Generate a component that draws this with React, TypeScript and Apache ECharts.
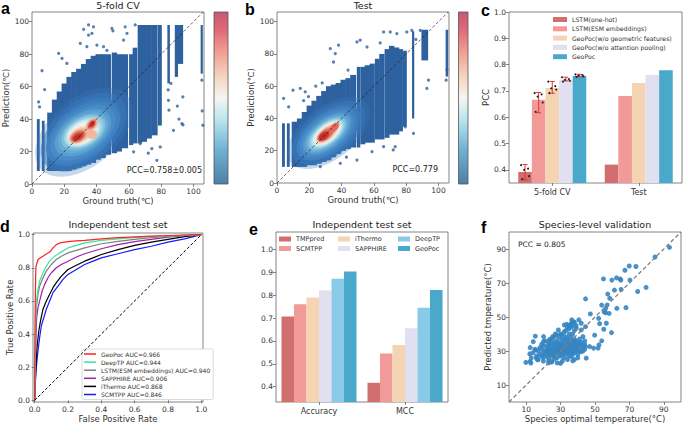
import React, { useEffect, useRef } from 'react';
import * as echarts from 'echarts';

const FONT = 'DejaVu Sans';

// ---------- Panel a (5-fold CV) ----------
// vertical bands of points: [xStart, xEnd, yLow, yHigh]
const A_COLUMNS = [
  [3.2, 4.6, 8, 40], [6.3, 7.6, 8, 39], [9.6, 12.5, 8, 44], [12.5, 15.5, 8, 52],
  [15.5, 18.5, 8, 57], [18.5, 21.5, 8, 62], [21.5, 24.5, 8, 66], [24.5, 27.5, 9, 69],
  [27.5, 30.5, 10, 71], [30.5, 33.5, 11, 74], [33.5, 36.5, 12, 77], [36.5, 39.5, 13, 79],
  [39.5, 42.5, 15, 80], [42.5, 45.5, 16, 80], [45.5, 48.8, 18, 80], [49.6, 52.5, 19, 81],
  [52.5, 55.5, 20, 80], [55.5, 59.3, 22, 80], [60.3, 62.5, 24, 80], [62.5, 65, 25, 84],
  [65.6, 68, 25, 98], [68, 71, 26, 98], [71, 74, 28, 98], [74, 77.6, 30, 98],
  [78.2, 80.2, 36, 98], [84, 85.2, 62, 98], [88.6, 90.2, 66, 98], [90.6, 93.4, 74, 98],
  [104.6, 105.6, 68, 98],
];
const A_OUTLIERS = [
  [6.2, 69.8], [7.8, 58.2], [4.7, 47.5], [4.1, 50.6], [16.5, 80.5], [18.6, 77.4], [21.6, 74.3],
  [32, 95.3], [35, 98], [38.1, 96.9], [37.1, 92.8], [35, 91.8], [29.9, 86.6], [34, 84.6],
  [40.2, 85.6], [44.3, 84.6], [49.5, 95.9], [50.1, 94.4], [57.7, 96.9], [58.8, 92.8],
  [56.7, 88.7], [46.4, 82.3], [63.9, 98], [84.5, 51.6], [84.8, 45.5], [87.6, 33.1], [93.4, 53.7],
  [92.8, 37.2], [93.5, 36.5], [105.2, 64], [105.8, 36.2], [105.4, 45], [77.3, 14.6], [79.4, 22.8],
  [74.2, 21.8], [67, 24.9], [62.9, 19.8], [72, 19], [84.3, 58], [90, 48], [91, 40], [86, 62],
];
// density contours: [cx, cy, rx, ry, angleDeg, level]
const A_DENSITY = [
  [32, 32, 27, 16, 40, 0], [31.5, 31.5, 20, 11.5, 36, 1], [31.5, 31.5, 15, 8.8, 33, 2],
  [32, 32, 11.5, 7, 30, 3], [31.5, 31.5, 9.3, 5.8, 30, 4], [31, 31, 7.6, 4.8, 30, 5],
  [29.5, 30, 6, 3.7, 30, 6], [37, 30.5, 3, 2.4, 0, 6], [37, 36.5, 4.1, 2.7, 50, 6],
  [28.5, 29.3, 4.4, 2.7, 30, 7], [37, 36.8, 2.9, 1.8, 50, 7], [28.3, 29, 2.9, 1.6, 30, 8],
  [37.2, 37, 1.6, 1.1, 50, 8],
];

// ---------- Panel b (Test) ----------
const B_COLUMNS = [
  [3.3, 4.7, 10, 37], [6.3, 7.7, 10, 37], [9.3, 12.5, 10, 38], [12.5, 15.5, 10, 40],
  [15.5, 18.5, 10, 44], [18.5, 21.5, 11, 48], [21.5, 24.5, 11, 51], [24.5, 27.5, 12, 54],
  [27.5, 30.5, 13, 57], [30.5, 33.5, 14, 60], [33.5, 36.5, 16, 61], [36.5, 39.5, 18, 62],
  [39.5, 42.5, 20, 64], [42.5, 45.5, 21, 65], [45.5, 48.8, 22, 67], [49.6, 51.4, 22, 72],
  [51.8, 54.5, 24, 72], [54.5, 57.5, 25, 73], [57.5, 60.4, 25, 74], [60.8, 63.5, 27, 77],
  [63.5, 66.4, 27, 80], [66.8, 69.5, 28, 83], [69.5, 72.5, 30, 85], [72.5, 75.5, 30, 84],
  [75.5, 77.8, 32, 83], [78.2, 80.2, 35, 82], [83.8, 84.8, 40, 94], [89.6, 93.4, 76, 95],
  [104.6, 105.8, 66, 95],
];
const B_OUTLIERS = [
  [4.1, 52.4], [7.2, 47.2], [9.9, 57.5], [14.4, 58.6], [17.5, 56.5], [19.5, 53.5], [16.5, 51],
  [33, 83.3], [36.1, 80.2], [38.1, 85.4], [35, 75], [49.5, 87.4], [51.5, 88.5], [55.7, 84.3],
  [63.9, 86.8], [66, 93.6], [70.1, 93.6], [74.2, 92.6], [80.4, 93.6], [83.5, 94.6], [88.7, 94.6],
  [91.8, 87.4], [93.8, 63.7], [92.8, 58.6], [84.5, 30.7], [79.4, 34.8], [73.2, 22.5], [72, 20.5],
  [66, 22.5], [58.8, 19.4], [49.5, 14.2], [43, 16], [39.2, 12.2], [26.8, 10.1], [104.7, 63.7],
  [105.2, 70.3], [86, 89], [44, 70], [28, 62], [24, 60],
];
const B_DENSITY = [
  [32, 31, 23, 12.5, 38, 0], [31, 30.5, 17, 9, 38, 1], [31, 30.5, 13.5, 6.8, 38, 2],
  [31, 30.5, 11, 5.4, 38, 3], [31, 30.5, 9, 4.5, 38, 4], [31.5, 31, 7.8, 3.8, 40, 5],
  [31, 30.5, 6.6, 3.2, 40, 6], [30, 29.8, 5, 2.6, 38, 7], [35.5, 34.5, 3.4, 1.8, 45, 7],
  [29, 29, 3.2, 1.8, 35, 8],
];

// ---------- Panel c ----------
const C_GROUPS = ['5-fold CV', 'Test'];
const C_MODELS = ['LSTM(one-hot)', 'LSTM(ESM embeddings)', 'GeoPoc(w/o geometric features)', 'GeoPoc(w/o attention pooling)', 'GeoPoc'];
const C_VALUES = [[0.392, 0.42], [0.666, 0.681], [0.711, 0.73], [0.742, 0.761], [0.757, 0.779]];
const C_ERR = [[0.362, 0.42], [0.617, 0.694], [0.691, 0.736], [0.738, 0.752], [0.754, 0.763]];
const C_FOLDS = [
  [0.418, 0.405, 0.40, 0.376, 0.365],
  [0.692, 0.687, 0.678, 0.656, 0.62],
  [0.735, 0.718, 0.71, 0.705, 0.692],
  [0.752, 0.745, 0.742, 0.738, 0.735],
  [0.763, 0.760, 0.758, 0.755, 0.753],
];

// ---------- Panel d ----------
const D_NAMES = ['GeoPoc AUC=0.966', 'DeepTP AUC=0.944', 'LSTM(ESM embeddings) AUC=0.940', 'SAPPHIRE AUC=0.906', 'iThermo AUC=0.868', 'SCMTPP AUC=0.846'];
const D_GEOPOC = [[0, 0], [0.002, 0.45], [0.004, 0.62], [0.006, 0.75], [0.008, 0.81], [0.015, 0.83], [0.02, 0.85], [0.035, 0.86], [0.05, 0.87], [0.065, 0.88], [0.08, 0.89], [0.095, 0.9], [0.11, 0.92], [0.13, 0.94], [0.15, 0.95], [0.2, 0.958], [0.25, 0.962], [0.3, 0.966], [0.4, 0.975], [0.5, 0.982], [0.6, 0.987], [0.7, 0.991], [0.8, 0.995], [0.9, 0.998], [1, 1]];
const D_DEEPTP = [[0, 0], [0.003, 0.3], [0.006, 0.5], [0.01, 0.6], [0.02, 0.67], [0.03, 0.72], [0.05, 0.77], [0.07, 0.81], [0.09, 0.84], [0.12, 0.87], [0.15, 0.89], [0.2, 0.92], [0.25, 0.935], [0.3, 0.95], [0.4, 0.965], [0.5, 0.975], [0.6, 0.982], [0.7, 0.988], [0.8, 0.993], [0.9, 0.997], [1, 1]];
const D_LSTM = [[0, 0], [0.003, 0.25], [0.006, 0.45], [0.01, 0.56], [0.02, 0.64], [0.03, 0.69], [0.05, 0.74], [0.07, 0.78], [0.1, 0.82], [0.13, 0.85], [0.16, 0.87], [0.2, 0.89], [0.25, 0.905], [0.3, 0.92], [0.4, 0.945], [0.5, 0.96], [0.6, 0.972], [0.7, 0.982], [0.8, 0.99], [0.9, 0.996], [1, 1]];
const D_SAPPHIRE = [[0, 0], [0.004, 0.2], [0.008, 0.38], [0.012, 0.5], [0.02, 0.56], [0.03, 0.6], [0.045, 0.66], [0.06, 0.7], [0.08, 0.74], [0.1, 0.77], [0.13, 0.8], [0.16, 0.82], [0.2, 0.84], [0.25, 0.865], [0.3, 0.885], [0.4, 0.915], [0.5, 0.94], [0.6, 0.958], [0.7, 0.972], [0.8, 0.985], [0.9, 0.994], [1, 1]];
const D_ITHERMO = [[0, 0], [0.003, 0.1], [0.008, 0.22], [0.015, 0.33], [0.025, 0.42], [0.035, 0.48], [0.05, 0.55], [0.07, 0.6], [0.09, 0.64], [0.11, 0.68], [0.13, 0.71], [0.16, 0.75], [0.2, 0.79], [0.25, 0.815], [0.3, 0.84], [0.35, 0.86], [0.4, 0.88], [0.5, 0.91], [0.6, 0.935], [0.7, 0.955], [0.8, 0.972], [0.9, 0.988], [1, 1]];
const D_SCMTPP = [[0, 0], [0.005, 0.12], [0.01, 0.2], [0.02, 0.3], [0.03, 0.38], [0.04, 0.45], [0.055, 0.5], [0.07, 0.55], [0.09, 0.6], [0.11, 0.65], [0.14, 0.69], [0.17, 0.73], [0.2, 0.76], [0.25, 0.79], [0.3, 0.82], [0.35, 0.84], [0.4, 0.86], [0.5, 0.885], [0.6, 0.91], [0.7, 0.93], [0.8, 0.955], [0.9, 0.975], [1, 1]];
const D_CURVES = [D_GEOPOC, D_DEEPTP, D_LSTM, D_SAPPHIRE, D_ITHERMO, D_SCMTPP];

// ---------- Panel e ----------
const E_GROUPS = ['Accuracy', 'MCC'];
const E_MODELS = ['TMPpred', 'SCMTPP', 'iThermo', 'SAPPHIRE', 'DeepTP', 'GeoPoc'];
const E_ACCURACY = [0.707, 0.76, 0.79, 0.82, 0.872, 0.903];
const E_MCC = [0.417, 0.545, 0.582, 0.655, 0.745, 0.822];

// ---------- Panel f ----------
const F_POINTS = [
  [93.3, 91], [84.9, 85.3], [69.9, 80], [73.8, 79.7], [67.4, 77.5], [70.3, 71.7], [62.5, 73], [59.8, 71.7],
  [64.6, 72.4], [54.9, 72.4], [65, 71.7], [79.7, 67.4], [74.8, 65], [61.3, 65.8], [65.2, 66.2], [57.4, 63.5],
  [58.6, 61], [44.5, 60.7], [53.9, 57], [57, 57], [56.2, 55.1], [55.3, 53.1], [62.7, 55.1], [68, 55.5],
  [56.2, 52.5], [47.3, 51.8], [58.2, 52.1], [52.1, 49.2], [56.6, 46.3], [52.7, 46.1], [55.1, 42.8],
  [59.6, 40.8], [53.9, 36], [49.8, 39.3], [51.8, 31.7], [46.9, 32.6], [49.2, 31.7], [44.5, 32.6], [42, 29.7],
  [44.9, 25.8], [52.3, 33.6], [9.8, 23.3], [12.3, 23.9], [12.7, 22.9], [12.3, 32], [12.1, 28.3], [15.7, 30.7],
  [16, 25.8], [14.1, 35.5], [15.3, 38.7], [20.1, 38.5], [20.1, 35.6], [16.6, 24.8], [23.1, 24.4], [24.8, 23.5],
  [29.9, 22.7], [36.1, 26.8], [37.1, 24.2], [26.4, 25.4], [30.3, 39.7], [32.2, 41.4], [32.2, 45.3], [33.6, 45.7],
  [36.5, 48.3], [37.5, 46.9], [40.6, 48.3], [42, 46.3], [39.1, 43.4], [34.8, 43], [28.7, 42.4], [27.4, 39.5],
  [25.4, 38.5], [23.5, 36.5], [42, 42.4], [44.5, 44.3], [43, 38.5], [44, 34], [40, 33.6],
  [17, 30], [18, 28], [18, 32], [19, 27], [19, 31], [19, 34], [20, 29], [20, 33], [20, 26], [21, 30], [21, 28],
  [21, 36], [22, 31], [22, 27], [22, 33], [22, 29], [23, 30], [23, 35], [23, 26], [23, 32], [24, 28], [24, 31],
  [24, 34], [24, 37], [24, 29], [25, 30], [25, 27], [25, 33], [25, 36], [25, 24], [26, 29], [26, 31], [26, 34],
  [26, 38], [26, 27], [27, 30], [27, 32], [27, 28], [27, 35], [27, 40], [28, 29], [28, 31], [28, 33], [28, 36],
  [28, 26], [29, 30], [29, 32], [29, 34], [29, 28], [29, 38], [30, 31], [30, 29], [30, 33], [30, 35], [30, 27],
  [30, 40], [31, 30], [31, 32], [31, 34], [31, 37], [31, 28], [32, 31], [32, 33], [32, 29], [32, 36], [32, 39],
  [32, 26], [33, 30], [33, 32], [33, 34], [33, 28], [33, 37], [33, 42], [34, 31], [34, 33], [34, 29], [34, 35],
  [34, 38], [35, 30], [35, 32], [35, 34], [35, 27], [35, 36], [35, 40], [36, 31], [36, 33], [36, 29], [36, 35],
  [36, 38], [36, 44], [37, 30], [37, 32], [37, 34], [37, 28], [37, 36], [37, 40], [37, 47], [38, 31], [38, 33],
  [38, 35], [38, 29], [38, 37], [38, 42], [39, 32], [39, 34], [39, 30], [39, 36], [39, 45], [40, 33], [40, 31],
  [40, 35], [40, 28], [41, 34], [41, 30], [41, 37], [42, 32], [42, 35], [43, 33], [43, 30], [44, 36], [44, 31],
  [16, 27], [15, 31], [14, 29], [13, 26], [17, 25], [20, 24], [23, 23], [28, 23], [31, 24], [34, 25], [38, 25],
  [40, 26], [36, 46], [37, 45], [38, 47], [35, 45], [34, 44],
];

// ---------- ticks ----------
const AB_TICKS = [0, 20, 40, 60, 80, 100];
const C_TICKS = [0.4, 0.5, 0.6, 0.7, 0.8, 0.9, 1.0];
const D_TICKS = [0, 0.2, 0.4, 0.6, 0.8, 1.0];
const E_TICKS = [0.4, 0.5, 0.6, 0.7, 0.8, 0.9, 1.0];
const F_TICKS = [10, 30, 50, 70, 90];

// ---------- styles ----------
const COL_DARK = '#2e619f';
// density colour ramp (rgb)
const DENSITY_RGB = [
  [58, 122, 188], [78, 148, 204], [114, 182, 218], [169, 221, 233], [228, 244, 244],
  [247, 238, 230], [242, 183, 156], [226, 104, 90], [194, 47, 42], [158, 27, 27],
];
// soft edge rings: [scale, alpha]
const SOFT_RINGS = [[1.3, 0.3], [1.15, 0.55], [1.0, 1]];
const C_COLORS = ['#d06f6d', '#f19a97', '#f5d4b4', '#e0e0f0', '#4aa8cb'];
const E_COLORS = ['#d06f6d', '#f19a97', '#f5d4b4', '#e0e0f0', '#88cae7', '#4aa8cb'];
const D_COLORS = ['#ff2020', '#3de39f', '#808080', '#a020a8', '#000000', '#1a1aff'];
const C_BAR_W = 13.6;
const E_BAR_W = 12.5;
const JITTER = [-4, 3, -1, 4, -3];
const GRIDS = [
  { left: 32, top: 12, width: 172, height: 172 },
  { left: 277, top: 12, width: 172, height: 171 },
  { left: 509, top: 12, width: 173, height: 171 },
  { left: 33, top: 233, width: 170, height: 169 },
  { left: 276, top: 232, width: 172, height: 170 },
  { left: 509, top: 232, width: 172, height: 170 },
];
const TXT = '#333';
const SPINE = '#666';

function valAxis(gi: number, min: number, max: number, ticks: number[], fmt: (v: number) => string, name: string, nameGap: number) {
  return {
    gridIndex: gi, type: 'value', min, max,
    axisLine: { show: false },
    axisTick: { show: true, length: 3, lineStyle: { color: SPINE, width: 0.8 }, customValues: ticks },
    axisLabel: { customValues: ticks, formatter: fmt, fontSize: 7.5, color: TXT, margin: 3, fontFamily: FONT },
    splitLine: { show: false },
    name, nameLocation: 'middle', nameGap,
    nameTextStyle: { fontSize: 8.5, color: TXT, fontFamily: FONT },
  };
}
function catAxis(gi: number, data: string[]) {
  return {
    gridIndex: gi, type: 'category', data,
    axisLine: { show: false },
    axisTick: { show: true, alignWithLabel: true, length: 3, lineStyle: { color: SPINE, width: 0.8 } },
    axisLabel: { fontSize: 8, color: TXT, margin: 5, fontFamily: FONT },
  };
}
const intFmt = (v: number) => String(Math.round(v));
const oneFmt = (v: number) => v.toFixed(1);

// one custom series per density panel: point bands first, then soft density contours on top
function cloudSeries(idx: number, columns: number[][], density: number[][]) {
  return {
    type: 'custom', xAxisIndex: idx, yAxisIndex: idx, clip: true, silent: true,
    data: [[0, 0]],
    renderItem: (_p: any, api: any) => {
      const children: any[] = [];
      columns.forEach((c) => {
        const p0 = api.coord([c[0], c[3]]);
        const p1 = api.coord([c[1], c[2]]);
        children.push({ type: 'rect', shape: { x: p0[0] - 0.3, y: p0[1], width: p1[0] - p0[0] + 0.6, height: p1[1] - p0[1] }, style: { fill: COL_DARK } });
      });
      density.forEach((d) => {
        const c = api.coord([d[0], d[1]]);
        const s = api.size([d[2], d[3]]);
        const [r, g, b] = DENSITY_RGB[d[5]];
        SOFT_RINGS.forEach(([k, a]) => {
          children.push({
            type: 'ellipse',
            shape: { cx: c[0], cy: c[1], rx: Math.abs(s[0]) * k, ry: Math.abs(s[1]) * k },
            originX: c[0], originY: c[1],
            rotation: (d[4] * Math.PI) / 180,
            style: { fill: `rgba(${r},${g},${b},${a})` },
          });
        });
      });
      return { type: 'group', children };
    },
  };
}
function outlierSeries(idx: number, data: number[][]) {
  return { type: 'scatter', xAxisIndex: idx, yAxisIndex: idx, data, symbolSize: 3.2, itemStyle: { color: COL_DARK }, silent: true };
}
function diagSeries(idx: number, data: number[][], color: string, width: number, dash: number[]) {
  return {
    type: 'line', xAxisIndex: idx, yAxisIndex: idx, data, showSymbol: false, silent: true, z: 10,
    lineStyle: { color, width, type: dash },
  };
}

function buildOption() {
  const series: any[] = [];
  // a
  series.push(outlierSeries(0, A_OUTLIERS), cloudSeries(0, A_COLUMNS, A_DENSITY),
    diagSeries(0, [[0, 0], [106, 106]], '#222', 0.7, [3, 2]));
  // b
  series.push(outlierSeries(1, B_OUTLIERS), cloudSeries(1, B_COLUMNS, B_DENSITY),
    diagSeries(1, [[0, 0], [106, 106]], '#222', 0.7, [3, 2]));
  // c
  C_MODELS.forEach((m, i) => {
    series.push({
      type: 'bar', name: m, xAxisIndex: 2, yAxisIndex: 2, data: C_VALUES[i], barWidth: C_BAR_W, barGap: '0%',
      itemStyle: { color: C_COLORS[i] }, silent: true,
    });
  });
  series.push({
    type: 'custom', xAxisIndex: 2, yAxisIndex: 2, z: 6, silent: true,
    data: C_ERR.map((e, m) => [0, e[0], e[1], m]),
    renderItem: (_p: any, api: any) => {
      const pl = api.coord([api.value(0), api.value(1)]);
      const ph = api.coord([api.value(0), api.value(2)]);
      const x = pl[0] + (api.value(3) - 2) * C_BAR_W;
      const st = { stroke: '#e8302c', lineWidth: 1 };
      return {
        type: 'group', children: [
          { type: 'line', shape: { x1: x, y1: pl[1], x2: x, y2: ph[1] }, style: st },
          { type: 'line', shape: { x1: x - 2.5, y1: pl[1], x2: x + 2.5, y2: pl[1] }, style: st },
          { type: 'line', shape: { x1: x - 2.5, y1: ph[1], x2: x + 2.5, y2: ph[1] }, style: st },
        ],
      };
    },
  });
  series.push({
    type: 'custom', xAxisIndex: 2, yAxisIndex: 2, z: 7, silent: true,
    data: C_FOLDS.flatMap((f, m) => f.map((v, k) => [0, v, m, k])),
    renderItem: (_p: any, api: any) => {
      const p = api.coord([api.value(0), api.value(1)]);
      const x = p[0] + (api.value(2) - 2) * C_BAR_W + JITTER[api.value(3)];
      return { type: 'circle', shape: { cx: x, cy: p[1], r: 1 }, style: { fill: '#222' } };
    },
  });
  // d
  D_NAMES.forEach((n, i) => {
    series.push({
      type: 'line', name: n, xAxisIndex: 3, yAxisIndex: 3, data: D_CURVES[i], showSymbol: false, silent: true,
      lineStyle: { color: D_COLORS[i], width: 1.2 }, itemStyle: { color: D_COLORS[i] }, z: 3 + (6 - i),
    });
  });
  series.push(diagSeries(3, [[0, 0], [1, 1]], '#000', 1, [3, 2]));
  // e
  E_MODELS.forEach((m, i) => {
    series.push({
      type: 'bar', name: m, xAxisIndex: 4, yAxisIndex: 4, data: [E_ACCURACY[i], E_MCC[i]], barWidth: E_BAR_W, barGap: '0%',
      itemStyle: { color: E_COLORS[i] }, silent: true,
    });
  });
  // f
  series.push({ type: 'scatter', xAxisIndex: 5, yAxisIndex: 5, data: F_POINTS, symbolSize: 5, itemStyle: { color: '#3585c3', opacity: 0.9 }, silent: true });
  series.push(diagSeries(5, [[0, 0], [100, 100]], '#808080', 1.3, [4, 2.5]));

  const eLegendPos = [[279, 235], [279, 244.5], [338, 235], [338, 244.5], [398, 235], [398, 244.5]];
  const legends: any[] = [
    {
      left: 553, top: 16, orient: 'vertical', itemGap: 2.3, itemWidth: 14, itemHeight: 5, icon: 'rect', padding: 0,
      selectedMode: false, textStyle: { fontSize: 6.2, lineHeight: 7, color: TXT, fontFamily: FONT }, data: C_MODELS,
    },
    {
      left: 82, top: 349, orient: 'vertical', itemGap: 1.1, itemWidth: 12, itemHeight: 1.5, icon: 'rect',
      padding: [1.5, 3, 1.5, 2], borderColor: '#ccc', borderWidth: 0.7, borderRadius: 2, backgroundColor: '#fff',
      selectedMode: false, textStyle: { fontSize: 6, lineHeight: 7, color: TXT, fontFamily: FONT }, data: D_NAMES,
    },
    ...E_MODELS.map((m, i) => ({
      left: eLegendPos[i][0], top: eLegendPos[i][1], itemWidth: 12, itemHeight: 5, icon: 'rect', padding: 0,
      selectedMode: false, textStyle: { fontSize: 6.5, lineHeight: 8, color: TXT, fontFamily: FONT }, data: [m],
    })),
  ];

  const cbStops = [
    { offset: 0, color: '#4f7fa6' }, { offset: 0.2, color: '#6fb2d4' }, { offset: 0.38, color: '#bde6ee' },
    { offset: 0.5, color: '#f5f5f3' }, { offset: 0.62, color: '#f5d6c0' }, { offset: 0.78, color: '#ee9a8e' },
    { offset: 0.9, color: '#df6878' }, { offset: 1, color: '#c45a76' },
  ];
  const grad = { type: 'linear', x: 0, y: 1, x2: 0, y2: 0, colorStops: cbStops };
  const text = (t: string, x: number, y: number, size: number, align = 'center') => ({
    type: 'text', x, y, silent: true,
    style: { text: t, fontSize: size, fontFamily: FONT, fill: '#222', textAlign: align, textVerticalAlign: 'middle' },
  });
  const letter = (t: string, x: number, y: number) => ({
    type: 'text', x, y, silent: true,
    style: { text: t, fontSize: 16, fontWeight: 'bold', fontFamily: 'Liberation Sans', fill: '#000', textAlign: 'left', textVerticalAlign: 'middle' },
  });
  const graphic = [
    { type: 'rect', shape: { x: 214, y: 12, width: 14, height: 172 }, style: { fill: grad, stroke: '#555', lineWidth: 0.8 }, silent: true },
    { type: 'rect', shape: { x: 458.5, y: 12, width: 9.5, height: 172 }, style: { fill: grad, stroke: '#555', lineWidth: 0.8 }, silent: true },
    text('5-fold CV', 118, 5, 9.5),
    text('Test', 363, 5, 9.5),
    text('Independent test set', 118, 224, 9.5),
    text('Independent test set', 362, 224, 9.5),
    text('Species-level validation', 595, 224, 9.5),
    text('PCC=0.758±0.005', 202, 170, 8, 'right'),
    text('PCC=0.779', 438, 169, 8, 'right'),
    text('PCC = 0.805', 518, 244, 7.5, 'left'),
    letter('a', 1, 8),
    letter('b', 245, 9),
    letter('c', 481, 10),
    letter('d', 0, 226),
    letter('e', 249, 229),
    letter('f', 481, 227),
  ];

  return {
    animation: false,
    backgroundColor: '#fff',
    textStyle: { fontFamily: FONT },
    grid: GRIDS.map((g) => ({ ...g, show: true, borderColor: SPINE, borderWidth: 0.8, backgroundColor: 'transparent' })),
    xAxis: [
      valAxis(0, 0, 106.5, AB_TICKS, intFmt, 'Ground truth(℃)', 12),
      valAxis(1, 0, 106.5, AB_TICKS, intFmt, 'Ground truth(℃)', 12),
      catAxis(2, C_GROUPS),
      valAxis(3, -0.01, 1.01, D_TICKS, oneFmt, 'False Positive Rate', 12),
      catAxis(4, E_GROUPS),
      valAxis(5, 0, 100, F_TICKS, intFmt, 'Species optimal temperature(°C)', 12),
    ],
    yAxis: [
      valAxis(0, 0, 106, AB_TICKS, intFmt, 'Prediction(℃)', 19),
      valAxis(1, 0, 106, AB_TICKS, intFmt, 'Prediction(℃)', 19),
      valAxis(2, 0.35, 1.0, C_TICKS, oneFmt, 'PCC', 17),
      valAxis(3, -0.01, 1.01, D_TICKS, oneFmt, 'True Positive Rate', 19),
      valAxis(4, 0.333, 1.076, E_TICKS, oneFmt, '', 17),
      valAxis(5, 0, 100, F_TICKS, intFmt, 'Predicted tmperature(°C)', 15),
    ],
    legend: legends,
    series,
    graphic,
  };
}

export default function App() {
  const ref = useRef<HTMLDivElement>(null);
  useEffect(() => {
    const chart = echarts.init(ref.current!, null, { renderer: 'svg' });
    chart.setOption(buildOption() as any);
    return () => chart.dispose();
  }, []);
  return <div ref={ref} style={{ position: 'absolute', left: 0, top: 0, width: 683, height: 425, background: '#fff' }} />;
}
